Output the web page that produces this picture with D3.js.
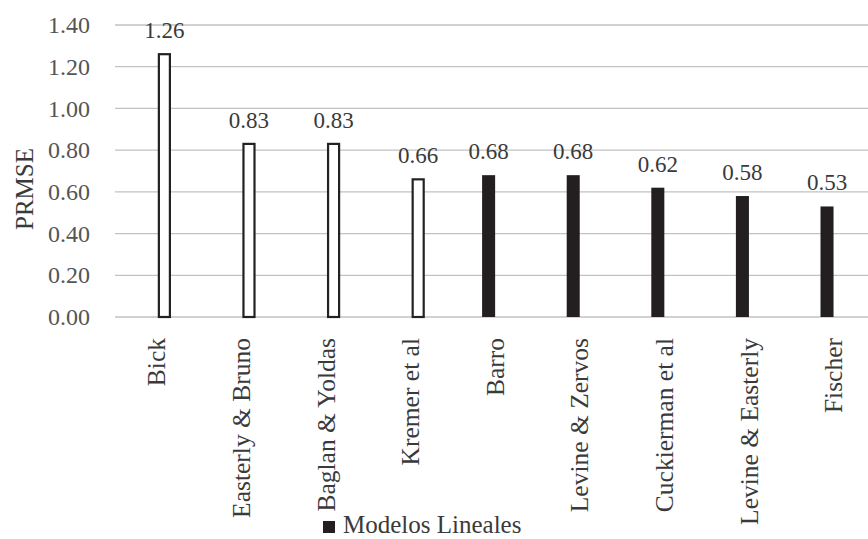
<!DOCTYPE html>
<html>
<head>
<meta charset="utf-8">
<script src="https://cdn.jsdelivr.net/npm/d3@7/dist/d3.min.js"></script>
<style>
  html, body { margin: 0; padding: 0; background: #fff; }
</style>
</head>
<body>
<svg id="chart" width="868" height="539" font-family="Liberation Serif"></svg>
<script>
// Forecasting models and their PRMSE
const categories = ["Bick", "Easterly & Bruno", "Baglan & Yoldas", "Kremer et al",
  "Barro", "Levine & Zervos", "Cuckierman et al", "Levine & Easterly", "Fischer"];
const otherModels  = [1.26, 0.83, 0.83, 0.66, null, null, null, null, null];
const linearModels = [null, null, null, null, 0.68, 0.68, 0.62, 0.58, 0.53];
const yTicks = [0, 0.2, 0.4, 0.6, 0.8, 1.0, 1.2, 1.4];
const seriesNames = ["Modelos Lineales", "Otros"];

const FONT = "Liberation Serif";
const TEXT = "#3a3a3a";
const svg = d3.select("#chart");
const plot = { left: 115, right: 115 + 9 * 84.6, top: 25, bottom: 317 };

const x0 = d3.scaleBand().domain(categories).range([plot.left, plot.right]).padding(0);
const x1 = d3.scaleBand().domain(seriesNames).range([-13.6, 13.6]).paddingInner(0.08);
const y = d3.scaleLinear().domain([0, 1.4]).range([plot.bottom, plot.top]);

// gridlines
svg.append("g")
  .selectAll("line").data(yTicks).join("line")
  .attr("x1", plot.left).attr("x2", 868)
  .attr("y1", d => y(d)).attr("y2", d => y(d))
  .attr("stroke", "#c2c2c2")
  .attr("stroke-width", d => d === 0 ? 1.6 : 1.3);

// y axis tick labels
const yAxis = d3.axisLeft(y).tickValues(yTicks).tickFormat(d3.format(".2f")).tickSize(0).tickPadding(0);
const yg = svg.append("g").attr("transform", `translate(90,0)`).call(yAxis)
  .attr("font-family", FONT).attr("font-size", 24);
yg.select(".domain").remove();
yg.selectAll("text").attr("font-family", FONT).attr("font-size", 24).attr("fill", "#555");

// y axis title
svg.append("text")
  .attr("transform", "translate(33,189) rotate(-90)")
  .attr("text-anchor", "middle")
  .attr("font-family", FONT).attr("font-size", 25).attr("fill", TEXT)
  .text("PRMSE");

const cx = c => x0(c) + x0.bandwidth() / 2;

// hollow bars
const other = categories.map((c, i) => ({ c, v: otherModels[i] })).filter(d => d.v != null);
svg.append("g").selectAll("rect").data(other).join("rect")
  .attr("x", d => cx(d.c) + x1("Otros") + 1)
  .attr("width", x1.bandwidth() - 2)
  .attr("y", d => y(d.v))
  .attr("height", d => y(0) - y(d.v))
  .attr("fill", "#fff").attr("stroke", "#222").attr("stroke-width", 2.2);

// solid bars
const linear = categories.map((c, i) => ({ c, v: linearModels[i] })).filter(d => d.v != null);
svg.append("g").selectAll("rect").data(linear).join("rect")
  .attr("x", d => cx(d.c) + x1("Modelos Lineales"))
  .attr("width", x1.bandwidth())
  .attr("y", d => y(d.v))
  .attr("height", d => y(0) - y(d.v))
  .attr("fill", "#231f20");

// value labels
const labelData = other.map(d => ({ ...d, s: "Otros" })).concat(linear.map(d => ({ ...d, s: "Modelos Lineales" })));
svg.append("g").selectAll("text").data(labelData).join("text")
  .attr("x", d => cx(d.c) + x1(d.s) + x1.bandwidth() / 2)
  .attr("y", d => y(d.v) - 16)
  .attr("text-anchor", "middle")
  .attr("font-family", FONT).attr("font-size", 23).attr("fill", TEXT)
  .text(d => d3.format(".2f")(d.v));

// category labels
svg.append("g").selectAll("text").data(categories).join("text")
  .attr("transform", d => `translate(${cx(d) + 8},338) rotate(-90)`)
  .attr("text-anchor", "end")
  .attr("font-family", FONT).attr("font-size", 25.5).attr("fill", TEXT)
  .text(d => d);

// legend
const lg = svg.append("g").attr("transform", "translate(323,521)");
lg.append("rect").attr("x", 0).attr("y", 0).attr("width", 12).attr("height", 12).attr("fill", "#231f20");
lg.append("text").attr("x", 20).attr("y", 12)
  .attr("font-family", FONT).attr("font-size", 25).attr("fill", TEXT).text(seriesNames[0]);
</script>
</body>
</html>
